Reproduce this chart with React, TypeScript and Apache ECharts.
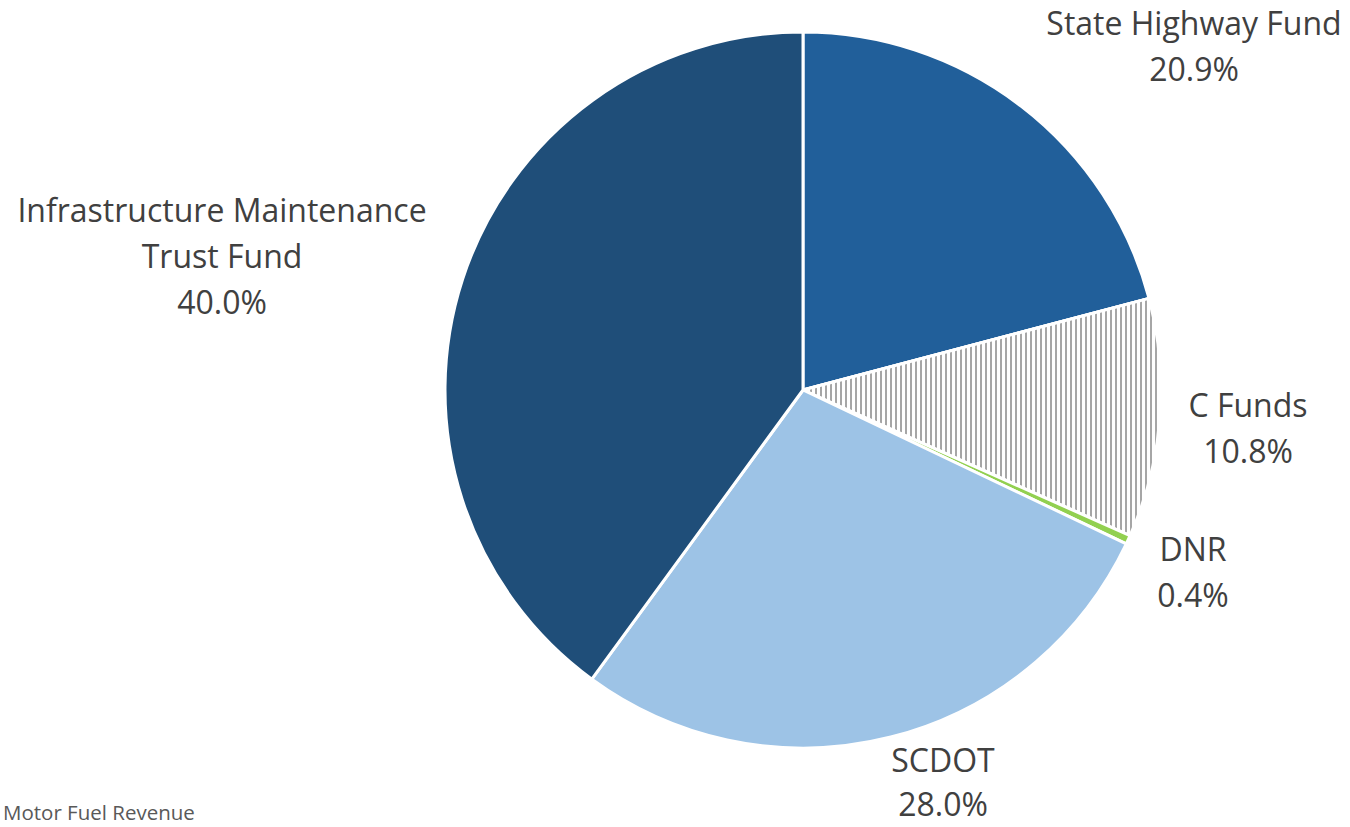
import React, { useEffect, useRef } from "react";
import * as echarts from "echarts";

const categories = ["State Highway Fund", "C Funds", "DNR", "SCDOT", "Infrastructure Maintenance\nTrust Fund"];
const values = [20.9, 10.8, 0.4, 28.0, 40.0];
const colors = ["#215f9a", "#ffffff", "#92d050", "#9dc3e6", "#1f4e79"];
const footnote = "Motor Fuel Revenue";

export default function App() {
  const ref = useRef<HTMLDivElement>(null);
  useEffect(() => {
    if (!ref.current) return;
    const chart = echarts.init(ref.current, null, { renderer: "svg" });
    const labelPos: [number, number][] = [
      [1194, 45],
      [1248, 427],
      [1193, 571],
      [943, 781],
      [222, 255],
    ];
    chart.setOption({
      animation: false,
      backgroundColor: "#ffffff",
      graphic: [
        {
          type: "text",
          left: 3,
          top: 801,
          style: { text: footnote, fill: "#595959", font: "20.5px 'Open Sans', sans-serif" },
        },
      ],
      series: [
        {
          type: "pie",
          center: [803, 390],
          radius: 358,
          startAngle: 90,
          clockwise: true,
          avoidLabelOverlap: false,
          itemStyle: { borderColor: "#ffffff", borderWidth: 3 },
          labelLine: { show: false },
          label: {
            show: true,
            position: "outside",
            formatter: (p: any) => `${p.name}\n${p.value.toFixed(1)}%`,
            color: "#404040",
            fontFamily: "'Open Sans', sans-serif",
            fontSize: 32,
            lineHeight: 46,
            align: "center",
          },
          labelLayout: (params: any) => ({
            x: labelPos[params.dataIndex][0],
            y: labelPos[params.dataIndex][1],
            align: "center",
            verticalAlign: "middle",
          }),
          data: categories.map((name, i) => ({
            name,
            value: values[i],
            label: i === 3 ? { lineHeight: 44 } : undefined,
            itemStyle:
              i === 1
                ? {
                    color: "#ffffff",
                    decal: {
                      symbol: "rect",
                      symbolSize: 1,
                      color: "#a6a6a6",
                      backgroundColor: "#ffffff",
                      dashArrayX: [2, 2.3],
                      dashArrayY: [4, 0],
                      rotation: 0,
                    },
                  }
                : { color: colors[i] },
          })),
        },
      ],
    });
    return () => chart.dispose();
  }, []);
  return <div ref={ref} style={{ position: "fixed", left: 0, top: 0, width: 1350, height: 827 }} />;
}
